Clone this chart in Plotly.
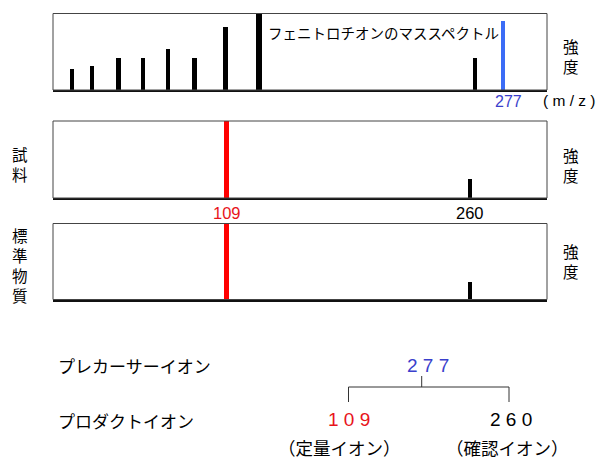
import plotly.graph_objects as go

# ---- data ----------------------------------------------------------------
# mass spectrum of fenitrothion (m/z, relative intensity)
spec_mz = [16, 28, 44, 59, 74, 90, 109, 129, 260, 277]
spec_int = [28, 32, 42, 42, 54, 42, 83, 100, 43, 91]

# product-ion panels: sample and reference standard
sample_mz = [109, 260]
sample_int = [100, 25]
standard_mz = [109, 260]
standard_int = [100, 24]

precursor_ion = "277"
product_ions = ["109", "260"]
product_roles = ["（定量イオン）", "（確認イオン）"]

# ---- styles --------------------------------------------------------------
BLACK = "#000000"
BLUE_BAR = "#3b6cf6"
BLUE_TXT = "#3a3fcc"
RED = "#ff0000"
RED_TXT = "#e8141b"
JP = "Noto Sans CJK JP"
LAT = "Liberation Sans"

spec_colors = [BLACK] * 9 + [BLUE_BAR]
spec_widths = [2.7, 2.7, 2.7, 2.7, 2.7, 2.7, 2.7, 3.4, 2.7, 2.6]
pair_colors = [RED, BLACK]
pair_widths = [2.7, 2.8]

W, H = 598, 459


def px(x):
    return x / W


def py(y):
    return 1 - y / H


fig = go.Figure()
fig.add_trace(go.Bar(x=spec_mz, y=spec_int, marker=dict(color=spec_colors, line_width=0),
                     width=spec_widths, xaxis="x", yaxis="y"))
fig.add_trace(go.Bar(x=sample_mz, y=sample_int, marker=dict(color=pair_colors, line_width=0),
                     width=pair_widths, xaxis="x2", yaxis="y2"))
fig.add_trace(go.Bar(x=standard_mz, y=standard_int, marker=dict(color=pair_colors, line_width=0),
                     width=pair_widths, xaxis="x3", yaxis="y3"))

xdom = [px(53), px(547)]
panels = [  # (top px, bottom px, x range)
    (13.5, 90, [4.4, 303.6]),
    (121, 198, [1.6, 307.7]),
    (223.5, 299.5, [1.6, 307.7]),
]

layout = dict(
    width=W, height=H, margin=dict(l=0, r=0, t=0, b=0),
    paper_bgcolor="white", plot_bgcolor="white", showlegend=False,
    bargap=0,
)
shapes = []
for i, (top, bot, xr) in enumerate(panels, start=1):
    sx = "" if i == 1 else str(i)
    layout["xaxis" + sx] = dict(domain=xdom, range=xr, anchor="y" + sx,
                                showgrid=False, zeroline=False, showticklabels=False,
                                ticks="", showline=True, linecolor="#111", linewidth=2,
                                fixedrange=True)
    layout["yaxis" + sx] = dict(domain=[py(bot), py(top)], range=[0, 100], anchor="x" + sx,
                                showgrid=False, zeroline=False, showticklabels=False,
                                ticks="", showline=False, fixedrange=True)
    shapes.append(dict(type="rect", xref="x%s domain" % sx, yref="y%s domain" % sx,
                       x0=0, x1=1, y0=0, y1=1, line=dict(color="#444", width=1),
                       layer="above"))

annotations = []


def text(x, y, s, size, color=BLACK, family=JP, xanchor="center"):
    annotations.append(dict(x=px(x), y=py(y), xref="paper", yref="paper", text=s,
                            showarrow=False, xanchor=xanchor, yanchor="middle",
                            font=dict(size=size, color=color, family=family)))


def vertical(x, y, s, size=15.5):
    # stacked one character per line
    text(x, y, "<br>".join(s), size)


# panel titles and axis captions
text(266, 33, "フェニトロチオンのマススペクトル", 14.5, xanchor="left")
vertical(571, 55.7, "強度")
vertical(571, 164.5, "強度")
vertical(571, 260.5, "強度")
vertical(20, 164, "試料")
vertical(20, 265, "標準物質")
text(569, 100.5, "( m / z )", 15.5, family=LAT)

# m/z labels under the spectra
text(508, 101.5, spec_mz[-1], 16, color=BLUE_TXT, family=LAT)
text(226.5, 212.5, sample_mz[0], 16.5, color=RED_TXT, family=LAT)
text(470, 212.5, sample_mz[1], 16.5, family=LAT)

# precursor / product ion scheme
NARROW = "Liberation Sans Narrow, " + LAT


def spaced(s):
    return " ".join(str(s))


text(56, 365, "プレカーサーイオン", 17, xanchor="left")
text(56, 420, "プロダクトイオン", 17, xanchor="left")
text(427.5, 365, spaced(precursor_ion), 19, color=BLUE_TXT, family=NARROW)
text(349, 419.5, spaced(product_ions[0]), 19, color=RED_TXT, family=NARROW)
text(511, 419.5, spaced(product_ions[1]), 19, family=NARROW)
text(339, 447, product_roles[0], 17.5)
text(507, 447, product_roles[1], 17.5)

# bracket joining precursor to its product ions
bl = dict(color="#333", width=1)
for x0, y0, x1, y1 in [(421.7, 376, 421.7, 387), (348.5, 387, 509, 387),
                       (348.5, 387, 348.5, 402), (509, 387, 509, 402)]:
    shapes.append(dict(type="line", xref="paper", yref="paper",
                       x0=px(x0), y0=py(y0), x1=px(x1), y1=py(y1), line=bl))

layout["shapes"] = shapes
layout["annotations"] = annotations
fig.update_layout(**layout)
fig.write_html("out.html")
